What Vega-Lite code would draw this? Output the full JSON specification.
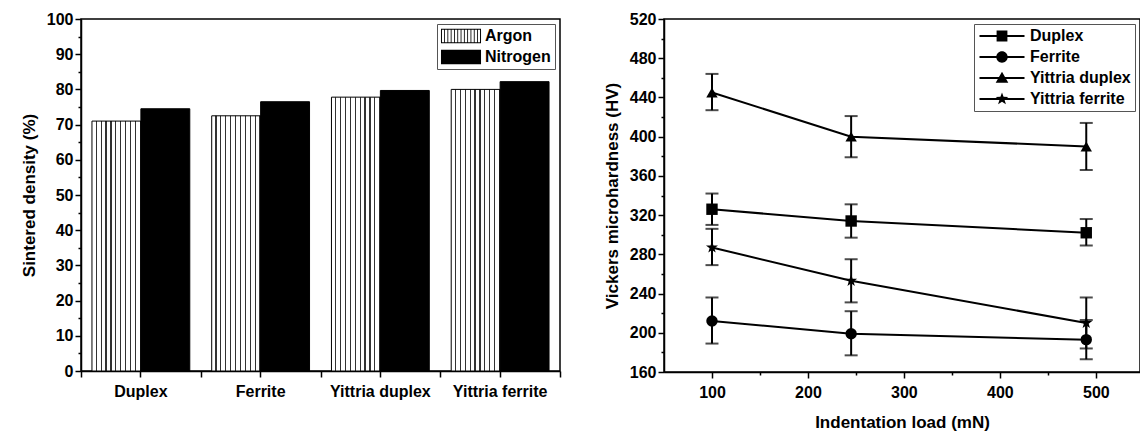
{
  "$schema": "https://vega.github.io/schema/vega-lite/v6.json",
  "padding": {"left": 19, "top": -201, "right": 0, "bottom": 0},
  "autosize": {"type": "pad"},
  "spacing": 40,
  "resolve": {"legend": {"shape": "independent"}},
  "config": {
    "font": "Liberation Sans",
    "view": {"stroke": "black", "strokeWidth": 1.5},
    "axis": {
      "domainColor": "black", "domainWidth": 1.5, "tickColor": "black", "tickWidth": 1.5, "tickSize": 5,
      "labelFont": "Liberation Sans", "labelFontWeight": "bold", "labelFontSize": 16, "labelColor": "black",
      "titleFont": "Liberation Sans", "titleFontWeight": "bold", "titleFontSize": 17, "titleColor": "black",
      "grid": false, "labelOverlap": false
    },
    "legend": {
      "labelFont": "Liberation Sans", "labelFontWeight": "bold", "labelFontSize": 16, "labelColor": "black",
      "strokeColor": "#555", "padding": 4, "fillColor": "white"
    }
  },
  "datasets": {
    "density": [
      {"sample": "Duplex", "gas": "Argon", "density": 71.0},
      {"sample": "Duplex", "gas": "Nitrogen", "density": 74.5},
      {"sample": "Ferrite", "gas": "Argon", "density": 72.5},
      {"sample": "Ferrite", "gas": "Nitrogen", "density": 76.5},
      {"sample": "Yittria duplex", "gas": "Argon", "density": 77.8},
      {"sample": "Yittria duplex", "gas": "Nitrogen", "density": 79.7},
      {"sample": "Yittria ferrite", "gas": "Argon", "density": 80.0},
      {"sample": "Yittria ferrite", "gas": "Nitrogen", "density": 82.2}
    ],
    "hardness": [
      {"series": "Duplex", "load": 100, "hv": 326, "lo": 310, "hi": 342},
      {"series": "Duplex", "load": 245, "hv": 314, "lo": 297, "hi": 331},
      {"series": "Duplex", "load": 490, "hv": 302, "lo": 289, "hi": 316},
      {"series": "Ferrite", "load": 100, "hv": 212, "lo": 189, "hi": 236},
      {"series": "Ferrite", "load": 245, "hv": 199, "lo": 177, "hi": 222},
      {"series": "Ferrite", "load": 490, "hv": 193, "lo": 173, "hi": 213},
      {"series": "Yittria duplex", "load": 100, "hv": 445, "lo": 427, "hi": 464},
      {"series": "Yittria duplex", "load": 245, "hv": 400, "lo": 379, "hi": 421},
      {"series": "Yittria duplex", "load": 490, "hv": 390, "lo": 366, "hi": 414},
      {"series": "Yittria ferrite", "load": 100, "hv": 287, "lo": 269, "hi": 306},
      {"series": "Yittria ferrite", "load": 245, "hv": 253, "lo": 231, "hi": 275},
      {"series": "Yittria ferrite", "load": 490, "hv": 210, "lo": 184, "hi": 236}
    ]
  },
  "hconcat": [
    {
      "width": 479,
      "height": 352,
      "data": {"name": "density"},
      "encoding": {
        "y": {"field": "density", "type": "quantitative", "scale": {"domain": [0, 100], "nice": false},
              "axis": {"title": "Sintered density (%)", "titlePadding": 8,
                       "values": [0,5,10,15,20,25,30,35,40,45,50,55,60,65,70,75,80,85,90,95,100],
                       "labelExpr": "datum.value % 10 === 0 ? datum.label : ''",
                       "tickSize": {"condition": {"test": "datum.value % 10 === 0", "value": 6}, "value": 3}}}
      },
      "layer": [
        {
          "mark": {"type": "bar", "stroke": "black", "strokeWidth": 1},
          "encoding": {
            "x": {"field": "sample", "type": "nominal", "sort": ["Duplex", "Ferrite", "Yittria duplex", "Yittria ferrite"],
                  "scale": {"paddingInner": 0, "paddingOuter": 0},
                  "axis": {"title": null, "labelAngle": 0, "tickSize": 6, "labelPadding": 6}},
            "xOffset": {"field": "gas", "type": "nominal", "sort": ["Argon", "Nitrogen"], "scale": {"paddingInner": 0, "paddingOuter": 0.224}},
            "fill": {"field": "gas", "type": "nominal",
                     "scale": {"domain": ["Argon", "Nitrogen"], "range": ["white", "black"]},
                     "legend": null,
                     "condition": {"test": "datum.gas === 'Argon'", "value": {"gradient": "linear", "x1": 0, "y1": 0, "x2": 1, "y2": 0, "stops": [
                                   {"offset": 0, "color": "white"}, {"offset": 0.075, "color": "white"}, {"offset": 0.075, "color": "#333"}, {"offset": 0.1, "color": "#333"},
                                   {"offset": 0.1, "color": "white"}, {"offset": 0.175, "color": "white"}, {"offset": 0.175, "color": "#333"}, {"offset": 0.2, "color": "#333"},
                                   {"offset": 0.2, "color": "white"}, {"offset": 0.275, "color": "white"}, {"offset": 0.275, "color": "#333"}, {"offset": 0.3, "color": "#333"},
                                   {"offset": 0.3, "color": "white"}, {"offset": 0.375, "color": "white"}, {"offset": 0.375, "color": "#333"}, {"offset": 0.4, "color": "#333"},
                                   {"offset": 0.4, "color": "white"}, {"offset": 0.475, "color": "white"}, {"offset": 0.475, "color": "#333"}, {"offset": 0.5, "color": "#333"},
                                   {"offset": 0.5, "color": "white"}, {"offset": 0.575, "color": "white"}, {"offset": 0.575, "color": "#333"}, {"offset": 0.6, "color": "#333"},
                                   {"offset": 0.6, "color": "white"}, {"offset": 0.675, "color": "white"}, {"offset": 0.675, "color": "#333"}, {"offset": 0.7, "color": "#333"},
                                   {"offset": 0.7, "color": "white"}, {"offset": 0.775, "color": "white"}, {"offset": 0.775, "color": "#333"}, {"offset": 0.8, "color": "#333"},
                                   {"offset": 0.8, "color": "white"}, {"offset": 0.875, "color": "white"}, {"offset": 0.875, "color": "#333"}, {"offset": 0.9, "color": "#333"},
                                   {"offset": 0.9, "color": "white"}, {"offset": 0.975, "color": "white"}, {"offset": 0.975, "color": "#333"}, {"offset": 1, "color": "#333"}
                                 ]}}}
          }
        },
        {
          "mark": {"type": "bar", "opacity": 0},
          "encoding": {
            "x": {"field": "sample", "type": "nominal", "sort": ["Duplex", "Ferrite", "Yittria duplex", "Yittria ferrite"],
                  "axis": {"orient": "bottom", "tickBand": "extent", "labels": false, "title": null, "domain": false, "tickSize": 6}}
          }
        },
        {
          "mark": {"type": "point", "opacity": 0, "filled": true, "color": "black"},
          "encoding": {
            "x": {"field": "sample", "type": "nominal", "sort": ["Duplex", "Ferrite", "Yittria duplex", "Yittria ferrite"], "axis": null},
            "shape": {"field": "gas", "type": "nominal",
                      "scale": {"domain": ["Argon", "Nitrogen"],
                                "range": ["M-2.67,-0.96H2.67V-0.83H-2.67Z M-2.67,0.83H2.67V0.96H-2.67Z M-2.67,-0.96H-2.54V0.96H-2.67Z M2.54,-0.96H2.67V0.96H2.54Z M-2.25,-0.96H-2.14V0.96H-2.25Z M-1.81,-0.96H-1.7V0.96H-1.81Z M-1.37,-0.96H-1.26V0.96H-1.37Z M-0.93,-0.96H-0.82V0.96H-0.93Z M-0.49,-0.96H-0.38V0.96H-0.49Z M-0.05,-0.96H0.06V0.96H-0.05Z M0.39,-0.96H0.5V0.96H0.39Z M0.83,-0.96H0.94V0.96H0.83Z M1.27,-0.96H1.38V0.96H1.27Z M1.71,-0.96H1.82V0.96H1.71Z M2.15,-0.96H2.26V0.96H2.15Z",
                                          "M-2.67,-0.96H2.67V0.96H-2.67Z"]},
                      "legend": {"title": null, "orient": "top-right", "offset": 5, "symbolSize": 225,
                                 "symbolFillColor": "black", "symbolStrokeWidth": 0, "symbolOpacity": 1,
                                 "symbolOffset": 12, "labelOffset": 16, "rowPadding": 5}}
          }
        },
        {
          "data": {"values": [{"label": "(a)"}]},
          "mark": {"type": "text", "font": "Liberation Serif", "fontSize": 31, "fontWeight": "bold", "color": "black", "align": "left", "baseline": "alphabetic"},
          "encoding": {
            "x": {"datum": "Duplex", "type": "nominal", "bandPosition": 0.06, "axis": null},
            "y": {"datum": 92.3, "type": "quantitative"},
            "text": {"field": "label", "type": "nominal"}
          }
        }
      ],
      "resolve": {"axis": {"x": "independent"}}
    },
    {
      "width": 476,
      "height": 353,
      "data": {"name": "hardness"},
      "encoding": {
        "x": {"field": "load", "type": "quantitative", "scale": {"domain": [50, 546], "nice": false, "zero": false},
              "axis": {"title": "Indentation load (mN)", "titlePadding": 14, "labelPadding": 6,
                       "values": [100,150,200,250,300,350,400,450,500],
                       "labelExpr": "datum.value % 100 === 0 ? datum.label : ''",
                       "tickSize": {"condition": {"test": "datum.value % 100 === 0", "value": 6}, "value": 3}}},
        "y": {"field": "hv", "type": "quantitative", "scale": {"domain": [160, 520], "nice": false, "zero": false},
              "axis": {"title": "Vickers microhardness (HV)", "titlePadding": 8,
                       "values": [160,180,200,220,240,260,280,300,320,340,360,380,400,420,440,460,480,500,520],
                       "labelExpr": "datum.value % 40 === 0 ? datum.label : ''",
                       "tickSize": {"condition": {"test": "datum.value % 40 === 0", "value": 6}, "value": 3}}}
      },
      "layer": [
        {
          "mark": {"type": "line", "color": "black", "strokeWidth": 2},
          "encoding": {"detail": {"field": "series", "type": "nominal"}}
        },
        {
          "mark": {"type": "errorbar", "color": "black", "thickness": 2, "ticks": {"size": 13}},
          "encoding": {
            "y": {"field": "lo", "type": "quantitative"},
            "y2": {"field": "hi"}
          }
        },
        {
          "mark": {"type": "point", "filled": true, "opacity": 1, "size": 130, "color": "black"},
          "encoding": {
            "shape": {"field": "series", "type": "nominal", "legend": null,
                      "scale": {"domain": ["Duplex", "Ferrite", "Yittria duplex", "Yittria ferrite"],
                                "range": ["square", "circle", "triangle-up", "M0,-1.1L0.26,-0.36L1.05,-0.34L0.42,0.14L0.65,0.89L0,0.44L-0.65,0.89L-0.42,0.14L-1.05,-0.34L-0.26,-0.36Z"]}}
          }
        },
        {
          "mark": {"type": "point", "filled": true, "opacity": 0, "color": "black"},
          "encoding": {
            "shape": {"field": "series", "type": "nominal",
                      "scale": {"domain": ["Duplex", "Ferrite", "Yittria duplex", "Yittria ferrite"],
                                "range": ["M-3.75,-0.17H3.75V0.17H-3.75Z M-0.9,-0.9H0.9V0.9H-0.9Z",
                                          "M-3.75,-0.17H3.75V0.17H-3.75Z M-0.95,0A0.95,0.95 0 1,1 0.95,0A0.95,0.95 0 1,1 -0.95,0Z",
                                          "M-3.75,-0.17H3.75V0.17H-3.75Z M0,-1.05L1.05,0.8H-1.05Z",
                                          "M-3.75,-0.17H3.75V0.17H-3.75Z M0,-1.1L0.26,-0.36L1.05,-0.34L0.42,0.14L0.65,0.89L0,0.44L-0.65,0.89L-0.42,0.14L-1.05,-0.34L-0.26,-0.36Z"]},
                      "legend": {"title": null, "orient": "top-right", "offset": 5, "symbolSize": 144,
                                 "symbolFillColor": "black", "symbolStrokeWidth": 0, "symbolOpacity": 1,
                                 "symbolOffset": 16, "labelOffset": 20, "rowPadding": 5}}
          }
        },
        {
          "data": {"values": [{"label": "(b)"}]},
          "mark": {"type": "text", "font": "Liberation Serif", "fontSize": 31, "fontWeight": "bold", "color": "black", "align": "left", "baseline": "alphabetic"},
          "encoding": {
            "x": {"datum": 57, "type": "quantitative"},
            "y": {"datum": 491, "type": "quantitative"},
            "text": {"field": "label", "type": "nominal"}
          }
        }
      ],
      "resolve": {"scale": {"shape": "independent"}}
    }
  ]
}
